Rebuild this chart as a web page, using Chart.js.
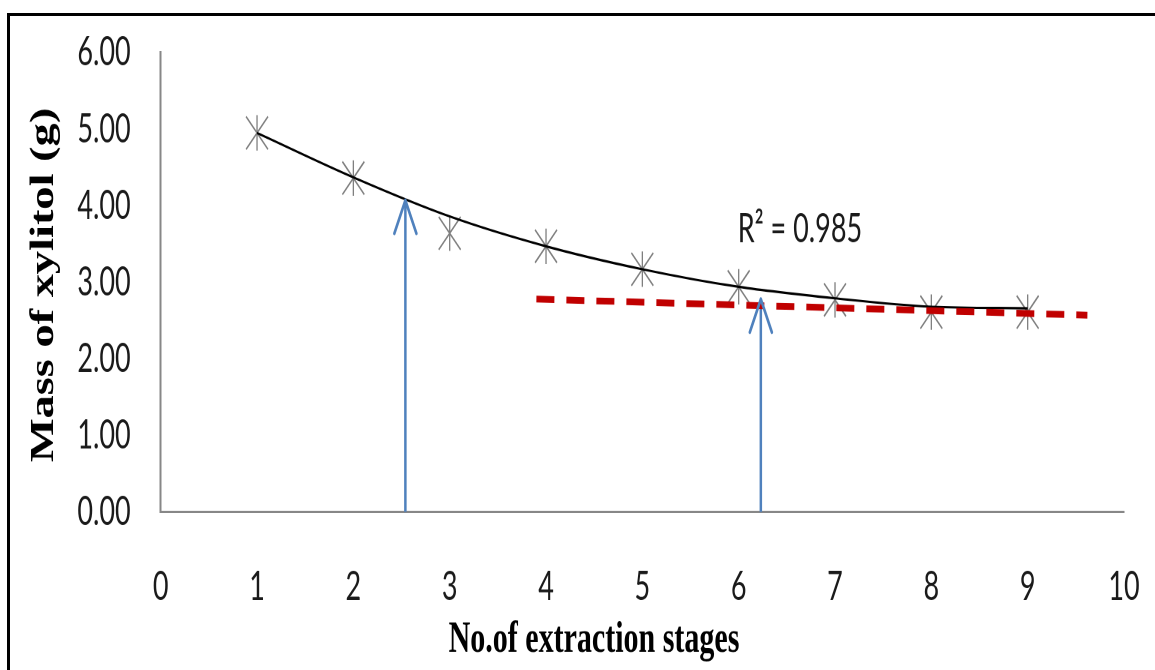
<!DOCTYPE html>
<html><head><meta charset="utf-8">
<script src="https://cdn.jsdelivr.net/npm/chart.js@4.4.1/dist/chart.umd.min.js"></script>
<style>
html,body{margin:0;padding:0;background:#fff;overflow:hidden;width:1155px;height:670px;}
#wrap{position:absolute;left:0;top:0;width:1155px;height:447px;transform:scaleY(1.5);transform-origin:0 0;}
#frame{position:absolute;left:7px;top:13px;width:1148px;height:657px;border-top:3px solid #000;border-left:3px solid #000;pointer-events:none;box-sizing:border-box;}
</style></head><body>
<div id="wrap"><canvas id="c" width="1155" height="447" style="width:1155px;height:447px"></canvas></div>
<div id="frame"></div>
<script>
// ---- data ----
const stages       = [1, 2, 3, 4, 5, 6, 7, 8, 9];
const xylitolMass  = [4.95, 4.36, 3.64, 3.47, 3.17, 2.94, 2.77, 2.61, 2.61];
const trendMass    = [4.95, 4.37, 3.86, 3.47, 3.17, 2.94, 2.79, 2.68, 2.66];
const plateauX     = [3.90, 9.62];
const plateauY     = [2.78, 2.57];
const arrowX       = [2.54, 6.23];
const arrowTop     = [4.07, 2.78];
const xTickValues  = [0, 1, 2, 3, 4, 5, 6, 7, 8, 9, 10];
const yTickValues  = [0, 1, 2, 3, 4, 5, 6];
const r2Label      = 'R\u00B2 = 0.985';
const xTitleText   = 'No.of extraction stages';
const yTitleText   = 'Mass of xylitol (g)';

const STRETCH = 1.5;
const tickFont = {family: 'Lato', size: 27};
const tickColor = '#1a1a1a';
const axisColor = '#878787';
const markerColor = '#7f7f7f';
const arrowColor = '#4f81bd';

const pts = (xs, ys) => xs.map((x, i) => ({x: x, y: ys[i]}));

const arrowDatasets = arrowX.map((ax, i) => ({
  label: 'arrow' + i,
  data: [{x: ax, y: 0}, {x: ax, y: arrowTop[i]}],
  showLine: true, borderColor: arrowColor, borderWidth: 2.5,
  pointRadius: 0, fill: false, order: 3
}));

const extrasPlugin = {
  id: 'extras',
  afterDatasetsDraw(chart) {
    const ctx = chart.ctx;
    const xs = chart.scales.x, ys = chart.scales.y;
    ctx.save();
    ctx.strokeStyle = arrowColor;
    ctx.lineWidth = 2.5;
    ctx.lineCap = 'round';
    ctx.lineJoin = 'round';
    arrowX.forEach((ax, i) => {
      const px = xs.getPixelForValue(ax), py = ys.getPixelForValue(arrowTop[i]);
      ctx.beginPath();
      ctx.moveTo(px - 11, py + 22);
      ctx.lineTo(px, py);
      ctx.lineTo(px + 11, py + 22);
      ctx.stroke();
    });
    ctx.restore();
  },
  afterDraw(chart) {
    const ctx = chart.ctx;
    const xs = chart.scales.x, ys = chart.scales.y;
    ctx.save();
    ctx.fillStyle = tickColor;
    ctx.font = '27px Lato';
    ctx.textAlign = 'left';
    ctx.textBaseline = 'alphabetic';
    ctx.fillText(r2Label, xs.getPixelForValue(5.99), ys.getPixelForValue(3.52));
    ctx.font = 'bold 30px "Liberation Serif"';
    ctx.textAlign = 'center';
    ctx.textBaseline = 'middle';
    ctx.fillStyle = '#000';
    ctx.fillText(xTitleText, 594, 640 / STRETCH);
    ctx.save();
    ctx.translate(53, 285 / STRETCH);
    ctx.scale(1, 0.91);
    ctx.rotate(-Math.PI / 2);
    ctx.font = 'bold 34px "Liberation Serif"';
    ctx.textAlign = 'center';
    ctx.textBaseline = 'alphabetic';
    ctx.fillText(yTitleText, 0, 0);
    ctx.restore();
    ctx.restore();
  }
};

new Chart(document.getElementById('c'), {
  type: 'scatter',
  data: {
    datasets: [
      {label: 'trend', data: pts(stages, trendMass), showLine: true, borderColor: '#000', borderWidth: 1.6,
       pointRadius: 0, tension: 0.4, cubicInterpolationMode: 'monotone', fill: false, order: 2},
      {label: 'plateau', data: pts(plateauX, plateauY), showLine: true, borderColor: '#c00000', borderWidth: 4.5,
       borderDash: [18, 12], pointRadius: 0, fill: false, order: 1},
      ...arrowDatasets,
      {label: 'mass X', data: pts(stages, xylitolMass), showLine: false, pointStyle: 'crossRot',
       pointRadius: 15.5, borderColor: markerColor, backgroundColor: markerColor, pointBorderWidth: 1.3, order: 4},
      {label: 'mass |', data: pts(stages, xylitolMass), showLine: false, pointStyle: 'line', pointRotation: 90,
       pointRadius: 11.8, borderColor: markerColor, backgroundColor: markerColor, pointBorderWidth: 1.3, order: 4}
    ]
  },
  options: {
    responsive: false,
    animation: false,
    devicePixelRatio: 2,
    events: [],
    layout: {padding: {top: 35, right: 31, left: 0, bottom: 0}},
    plugins: {legend: {display: false}, tooltip: {enabled: false}},
    scales: {
      x: {
        type: 'linear', min: 0, max: 10,
        afterBuildTicks: s => { s.ticks = xTickValues.map(v => ({value: v})); },
        afterFit: s => { s.height = 447 - 512 / STRETCH; s.paddingLeft = 0; s.paddingRight = 0; },
        grid: {display: false, drawTicks: false},
        border: {display: true, color: axisColor, width: 1.5},
        ticks: {font: tickFont, color: tickColor, padding: 34, maxRotation: 0, autoSkip: false}
      },
      y: {
        type: 'linear', min: 0, max: 6,
        afterBuildTicks: s => { s.ticks = yTickValues.map(v => ({value: v})); },
        afterFit: s => { s.width = 160.7; s.paddingTop = 0; s.paddingBottom = 0; },
        grid: {display: false, drawTicks: false},
        border: {display: true, color: axisColor, width: 2},
        ticks: {font: tickFont, color: tickColor, padding: 30, autoSkip: false,
                callback: v => Number(v).toFixed(2)}
      }
    }
  },
  plugins: [extrasPlugin]
});
</script>
</body></html>
